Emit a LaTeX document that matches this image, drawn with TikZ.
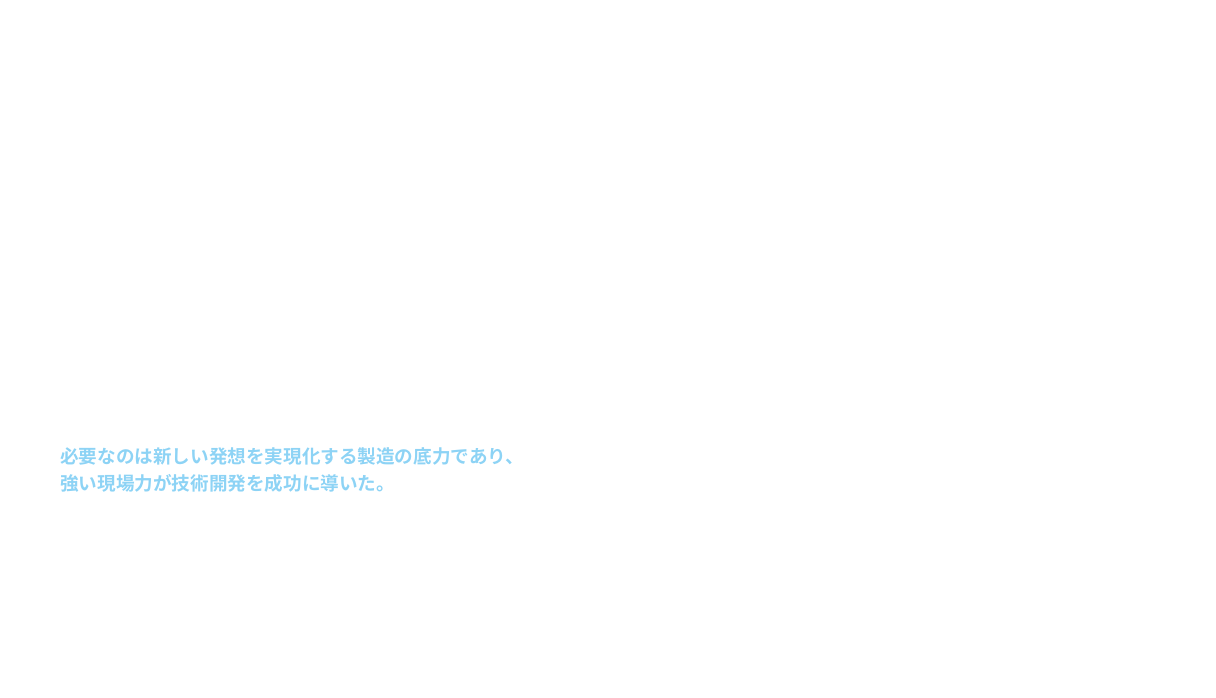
\documentclass[tikz,border=0pt]{standalone}
\usepackage{fontspec}
\newfontfamily\cjk{Noto Sans CJK JP}[BoldFont={* Bold}]
\definecolor{txtblue}{HTML}{8DD3F5}
\begin{document}
\begin{tikzpicture}[x=1pt,y=-1pt,
  lbl/.style={anchor=west,inner sep=0pt,text=txtblue,font=\cjk\bfseries\fontsize{18.6}{28}\selectfont}]
\useasboundingbox (0,0) rectangle (1216,698);
\node[lbl] (l1) at (60,456) {必要なのは新しい発想を実現化する製造の底力であり、};
\node[lbl] (l2) at (60,483) {強い現場力が技術開発を成功に導いた。};
\end{tikzpicture}
\end{document}
